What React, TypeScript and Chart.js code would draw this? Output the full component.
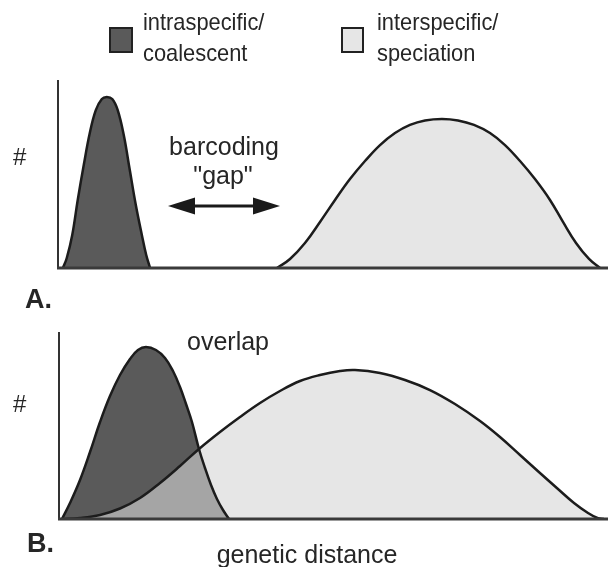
import React, { useEffect, useRef } from "react";
import { Chart, registerables } from "chart.js";

Chart.register(...registerables);

const FONT = '"Liberation Sans", Arial, Helvetica, sans-serif';

// ---- Panel A: barcoding gap (x = genetic distance 0-100, y = relative frequency 0-100)
const aIntraX = [0.9, 1.6, 2.6, 3.6, 4.7, 5.8, 6.9, 8.0, 8.9, 9.9, 10.9, 12.0, 13.1, 14.2, 15.3, 16.1, 16.8];
const aIntraY = [0, 5.3, 17.6, 36.2, 54.8, 71.8, 84, 89.9, 91, 89.9, 84, 70.7, 52.1, 33.5, 17.6, 6.9, 0];
const aInterX = [39.96, 42.34, 45.07, 47.81, 50.55, 53.28, 56.02, 58.76, 61.5, 64.23, 66.97, 70.07, 72.99, 75.91, 78.83, 81.57, 84.31, 87.04, 89.78, 92.15, 94.53, 96.9, 98.91];
const aInterY = [0, 4.8, 13.3, 24.5, 36.2, 47.3, 56.9, 65.4, 71.8, 76.1, 78.5, 79.3, 78.5, 76.1, 71.8, 65.4, 56.9, 47.3, 36.2, 24.5, 13.3, 4.8, 0];

// ---- Panel B: overlap
const bIntraX = [0.55, 2.01, 3.84, 5.67, 7.5, 9.32, 11.15, 12.98, 14.44, 15.9, 17.73, 19.38, 20.84, 22.12, 23.22, 24.31, 25.59, 26.69, 27.79, 28.88, 29.98, 31.08];
const bIntraY = [0, 8.56, 20.86, 35.83, 51.87, 65.78, 77.01, 85.56, 90.37, 91.98, 90.37, 86.1, 79.14, 70.59, 61.5, 51.87, 37.43, 27.27, 18.18, 10.7, 4.81, 0];
const bInterX = [0.55, 3.84, 7.5, 11.15, 14.81, 18.46, 22.12, 25.59, 29.43, 33.09, 36.75, 40.4, 44.06, 47.71, 51.37, 54.11, 58.68, 63.25, 67.82, 72.39, 76.97, 80.62, 84.28, 87.93, 91.22, 94.15, 96.71, 98.54, 99.63];
const bInterY = [0, 0.53, 2.14, 5.61, 11.23, 19.25, 28.34, 37.43, 46.52, 54.55, 62.03, 68.45, 73.8, 77.01, 79.14, 79.68, 78.07, 74.33, 68.98, 61.5, 52.41, 43.85, 34.22, 24.6, 16.04, 8.56, 3.21, 0.43, 0];

// ---- Text
const legendIntra = ["intraspecific/", "coalescent"];
const legendInter = ["interspecific/", "speciation"];
const gapLabel = ["barcoding", '"gap"'];
const overlapLabel = "overlap";
const xAxisTitle = "genetic distance";
const yAxisTitle = "#";
const panelLabels = ["A.", "B."];

const DARK_FILL = "#5a5a5a";
const LIGHT_FILL = "rgba(214,214,214,0.606)";
const LIGHT_SWATCH = "#e6e6e6";
const LINE = "#1c1c1c";
const TEXT = "#262626";

function pts(xs: number[], ys: number[]) {
  return xs.map((x, i) => ({ x, y: ys[i] }));
}

const axesPlugin = {
  id: "axesLines",
  afterDatasetsDraw(chart: any) {
    const { ctx, chartArea } = chart;
    ctx.save();
    ctx.strokeStyle = "#333";
    ctx.lineWidth = 2;
    ctx.beginPath();
    ctx.moveTo(chartArea.left, chartArea.top);
    ctx.lineTo(chartArea.left, chartArea.bottom);
    ctx.stroke();
    ctx.lineWidth = 3;
    ctx.strokeStyle = "#3a3a3a";
    ctx.beginPath();
    ctx.moveTo(chartArea.left - 1, chartArea.bottom);
    ctx.lineTo(chart.width, chartArea.bottom);
    ctx.stroke();
    ctx.restore();
  },
};

function drawText(
  ctx: CanvasRenderingContext2D,
  s: string,
  x: number,
  y: number,
  size: number,
  align: CanvasTextAlign = "left",
  bold = false,
  sx = 1
) {
  ctx.save();
  ctx.font = `${bold ? "bold " : ""}${size}px ${FONT}`;
  ctx.textAlign = align;
  ctx.textBaseline = "alphabetic";
  ctx.fillStyle = TEXT;
  ctx.translate(x, y);
  ctx.scale(sx, 1);
  ctx.fillText(s, 0, 0);
  ctx.restore();
}

const annotA = {
  id: "annotA",
  afterDraw(chart: any) {
    const ctx = chart.ctx as CanvasRenderingContext2D;
    ctx.save();
    // legend
    ctx.lineWidth = 2;
    ctx.strokeStyle = "#222";
    ctx.fillStyle = DARK_FILL;
    ctx.fillRect(110, 28, 22, 24);
    ctx.strokeRect(110, 28, 22, 24);
    ctx.fillStyle = LIGHT_SWATCH;
    ctx.fillRect(342, 28, 21, 24);
    ctx.strokeRect(342, 28, 21, 24);
    drawText(ctx, legendIntra[0], 143, 30, 24, "left", false, 0.91);
    drawText(ctx, legendIntra[1], 143, 61, 24, "left", false, 0.91);
    drawText(ctx, legendInter[0], 377, 30, 24, "left", false, 0.91);
    drawText(ctx, legendInter[1], 377, 61, 24, "left", false, 0.91);
    // y label & panel label
    drawText(ctx, yAxisTitle, 13, 165, 24);
    drawText(ctx, panelLabels[0], 25, 308, 27, "left", true);
    // barcoding gap
    drawText(ctx, gapLabel[0], 224, 155, 25, "center");
    drawText(ctx, gapLabel[1], 223, 184, 25, "center");
    // arrow
    const y = 206, x1 = 168, x2 = 280, hl = 27, hh = 8.5;
    ctx.strokeStyle = "#1a1a1a";
    ctx.lineWidth = 3;
    ctx.beginPath();
    ctx.moveTo(x1 + hl - 2, y);
    ctx.lineTo(x2 - hl + 2, y);
    ctx.stroke();
    ctx.fillStyle = "#1a1a1a";
    ctx.beginPath();
    ctx.moveTo(x1, y);
    ctx.lineTo(x1 + hl, y - hh);
    ctx.lineTo(x1 + hl, y + hh);
    ctx.closePath();
    ctx.fill();
    ctx.beginPath();
    ctx.moveTo(x2, y);
    ctx.lineTo(x2 - hl, y - hh);
    ctx.lineTo(x2 - hl, y + hh);
    ctx.closePath();
    ctx.fill();
    ctx.restore();
  },
};

const annotB = {
  id: "annotB",
  afterDraw(chart: any) {
    const ctx = chart.ctx as CanvasRenderingContext2D;
    ctx.save();
    drawText(ctx, yAxisTitle, 13, 412, 24);
    drawText(ctx, panelLabels[1], 27, 552, 27, "left", true);
    drawText(ctx, overlapLabel, 228, 350, 25, "center");
    drawText(ctx, xAxisTitle, 307, 563, 25, "center");
    ctx.restore();
  },
};

function makeConfig(intra: { x: number; y: number }[], inter: { x: number; y: number }[], padding: any, annot: any) {
  const lineStyle = {
    pointRadius: 0,
    borderWidth: 2.5,
    borderColor: LINE,
    tension: 0.4,
    fill: "origin",
  };
  return {
    type: "line" as const,
    data: {
      datasets: [
        { label: "interspecific/speciation", data: inter, backgroundColor: LIGHT_FILL, ...lineStyle },
        { label: "intraspecific/coalescent", data: intra, backgroundColor: DARK_FILL, ...lineStyle },
      ],
    },
    options: {
      animation: false as const,
      responsive: false,
      devicePixelRatio: 1,
      layout: { padding },
      parsing: false as const,
      scales: {
        x: { type: "linear" as const, min: 0, max: 100, display: false },
        y: { min: 0, max: 100, display: false },
      },
      plugins: {
        legend: { display: false },
        tooltip: { enabled: false },
        filler: { drawTime: "beforeDatasetsDraw" as const },
      },
      events: [],
    },
    plugins: [axesPlugin, annot],
  };
}

export default function App() {
  const refA = useRef<HTMLCanvasElement>(null);
  const refB = useRef<HTMLCanvasElement>(null);

  useEffect(() => {
    const a = new Chart(
      refA.current!,
      makeConfig(pts(aIntraX, aIntraY), pts(aInterX, aInterY), { left: 58, top: 80, right: 2, bottom: 299 }, annotA) as any
    );
    const b = new Chart(
      refB.current!,
      makeConfig(pts(bIntraX, bIntraY), pts(bInterX, bInterY), { left: 59, top: 332, right: 2, bottom: 48 }, annotB) as any
    );
    return () => {
      a.destroy();
      b.destroy();
    };
  }, []);

  const cs: React.CSSProperties = { position: "absolute", left: 0, top: 0, width: 608, height: 567 };
  return (
    <div style={{ position: "fixed", left: 0, top: 0, width: 608, height: 567, background: "#fff" }}>
      <canvas ref={refA} width={608} height={567} style={cs} />
      <canvas ref={refB} width={608} height={567} style={cs} />
    </div>
  );
}
